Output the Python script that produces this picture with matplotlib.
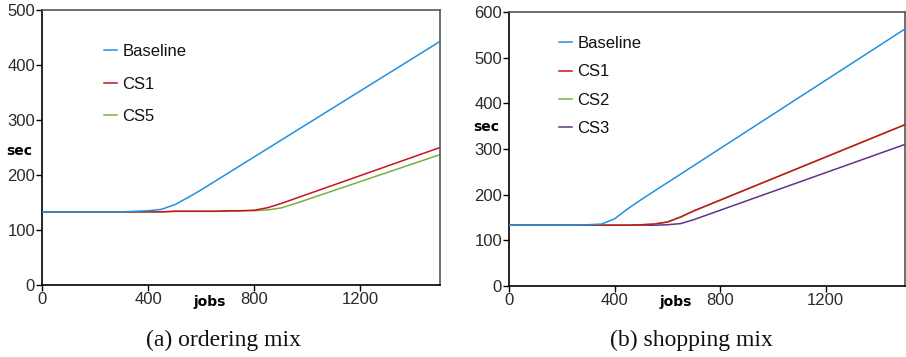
import matplotlib
matplotlib.use("Agg")
import matplotlib.pyplot as plt

# Job counts sampled every 50 jobs
jobs = list(range(0, 1501, 50))

# (a) ordering mix: response time in seconds
ord_baseline = [133, 133, 133, 133, 133, 133, 133, 134, 135, 137.5, 146, 159,
                173, 188, 203, 218, 233, 248, 263, 278, 293, 308, 323, 338,
                353, 368, 383, 398, 413, 428, 443]
ord_cs1 = [133, 133, 133, 133, 133, 133, 133, 133, 133, 133, 134, 134,
           134, 134, 135, 135, 136, 140.5, 148, 156.5, 165, 173.5, 182, 190.5,
           199, 207.5, 216, 224.5, 233, 241.5, 250]
ord_cs5 = [133, 133, 133, 133, 133, 133, 133, 133, 133, 133, 134, 134,
           134, 134, 134, 135, 135, 136.5, 140, 147.4, 155.5, 163.7, 171.8,
           180, 188.1, 196.3, 204.4, 212.6, 220.7, 228.9, 237]

# (b) shopping mix: response time in seconds
shop_baseline = [133, 133, 133, 133, 133, 133, 134, 135.5, 147, 169, 188.8,
                 207.5, 226.2, 244.9, 263.6, 282.3, 301, 319.7, 338.4, 357.1,
                 375.8, 394.5, 413.2, 431.9, 450.6, 469.3, 488, 506.7, 525.4,
                 544.1, 562.8]
shop_cs1 = [133, 133, 133, 133, 133, 133, 133, 133, 133, 133, 134, 135.5,
            140, 151, 164.4, 176.2, 188, 199.8, 211.6, 223.4, 235.2, 247,
            258.8, 270.6, 282.4, 294.2, 306, 317.8, 329.6, 341.4, 353.2]
shop_cs2 = list(shop_cs1)
shop_cs3 = [133, 133, 133, 133, 133, 133, 133, 133, 133, 133, 133, 133,
            134, 136.5, 145.2, 155.5, 165.8, 176.1, 186.4, 196.7, 207, 217.3,
            227.6, 237.9, 248.2, 258.5, 268.8, 279.1, 289.4, 299.7, 310]

x_ticks = [0, 400, 800, 1200]
captions = ["(a) ordering mix", "(b) shopping mix"]

BLUE = "#1f91dc"
RED = "#c8141e"
GREEN = "#76b042"
PURPLE = "#5e3487"

SANS = ["Liberation Sans", "DejaVu Sans"]

fig = plt.figure(figsize=(9.06, 3.57), dpi=100)
ax1 = fig.add_axes([0.0464, 0.2017, 0.4393, 0.7703])
ax2 = fig.add_axes([0.5618, 0.199, 0.4371, 0.7675])


def style(ax, ymax):
    ax.set_xlim(0, 1500)
    ax.set_ylim(0, ymax)
    ax.set_xticks(x_ticks)
    ax.set_yticks(range(0, ymax + 1, 100))
    ax.tick_params(direction="out", length=4, width=1, colors="black",
                   labelcolor="#2a2a2a", labelsize=12, pad=1)
    for lab in ax.get_xticklabels() + ax.get_yticklabels():
        lab.set_family(SANS)
    for sp in ax.spines.values():
        sp.set_linewidth(1.2)
        sp.set_color("black")
    ax.spines["right"].set_color("#555555")
    ax.spines["top"].set_color("#555555")


lw = 1.1
ax1.plot(jobs, ord_baseline, color=BLUE, lw=lw, label="Baseline", zorder=3)
ax1.plot(jobs, ord_cs1, color=RED, lw=lw, label="CS1", zorder=2)
ax1.plot(jobs, ord_cs5, color=GREEN, lw=lw, label="CS5", zorder=1)
style(ax1, 500)

ax2.plot(jobs, shop_baseline, color=BLUE, lw=lw, label="Baseline", zorder=4)
ax2.plot(jobs, shop_cs1, color=RED, lw=lw, label="CS1", zorder=3)
ax2.plot(jobs, shop_cs2, color=GREEN, lw=lw, label="CS2", zorder=2)
ax2.plot(jobs, shop_cs3, color=PURPLE, lw=lw, label="CS3", zorder=1)
style(ax2, 600)

leg_kw = dict(frameon=False, loc="upper left", handlelength=0.8,
              handletextpad=0.3, borderpad=0, borderaxespad=0,
              prop={"family": SANS, "size": 12})
l1 = ax1.legend(bbox_to_anchor=(0.156, 0.876), labelspacing=1.05, **leg_kw)
l2 = ax2.legend(bbox_to_anchor=(0.126, 0.912), labelspacing=0.8, **leg_kw)
for leg in (l1, l2):
    for t in leg.get_texts():
        t.set_color("#111111")

lab_kw = dict(fontsize=10, fontweight="bold", family="DejaVu Sans",
              ha="center", va="center")
fig.text(19 / 906, 1 - 151 / 357, "sec", **lab_kw)
fig.text(210 / 906, 1 - 302 / 357, "jobs", **lab_kw)
fig.text(486 / 906, 1 - 127 / 357, "sec", **lab_kw)
fig.text(676 / 906, 1 - 302 / 357, "jobs", **lab_kw)

cap_kw = dict(fontsize=17, family=["Liberation Serif", "DejaVu Serif"],
              ha="center", va="center", color="#111111")
fig.text(224 / 906, 1 - 340 / 357, captions[0], **cap_kw)
fig.text(691 / 906, 1 - 340 / 357, captions[1], **cap_kw)

fig.savefig("out.png", dpi=100)
